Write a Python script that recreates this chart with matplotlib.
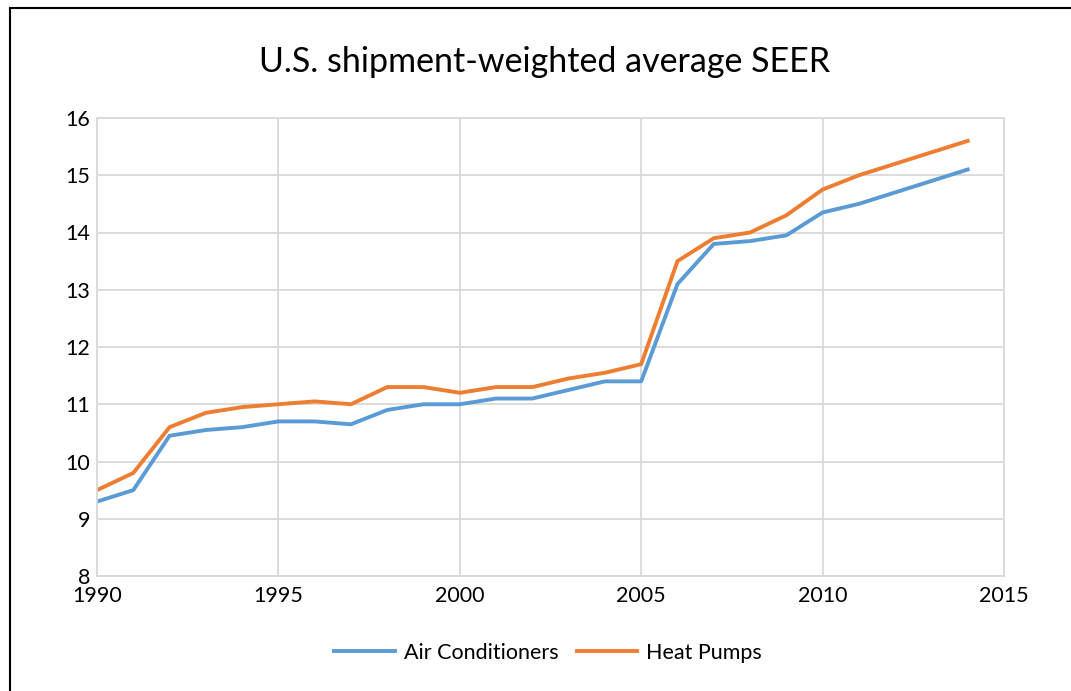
import matplotlib
matplotlib.use("Agg")
import matplotlib.pyplot as plt
from matplotlib.lines import Line2D

plt.rcParams['font.family'] = ['Lato', 'DejaVu Sans']

# values
years_ac = [1990, 1991, 1992, 1993, 1994, 1995, 1996, 1997, 1998, 1999, 2000,
            2001, 2002, 2003, 2004, 2005, 2006, 2007, 2008, 2009, 2010, 2011, 2014]
seer_ac = [9.3, 9.5, 10.45, 10.55, 10.6, 10.7, 10.7, 10.65, 10.9, 11.0, 11.0,
           11.1, 11.1, 11.25, 11.4, 11.4, 13.1, 13.8, 13.85, 13.95, 14.35, 14.5, 15.1]

years_hp = years_ac
seer_hp = [9.5, 9.8, 10.6, 10.85, 10.95, 11.0, 11.05, 11.0, 11.3, 11.3, 11.2,
           11.3, 11.3, 11.45, 11.55, 11.7, 13.5, 13.9, 14.0, 14.3, 14.75, 15.0, 15.6]

x_ticks = [1990, 1995, 2000, 2005, 2010, 2015]
y_ticks = [8, 9, 10, 11, 12, 13, 14, 15, 16]

blue = "#5b9bd5"
orange = "#ed7d31"
grid_col = "#d9d9d9"

fig = plt.figure(figsize=(10.71, 6.91), dpi=100)
ax = fig.add_axes([97/1071, 1-576/691, (1004-97)/1071, (576-118)/691])

ax.plot(years_ac, seer_ac, color=blue, lw=2.8, label="Air Conditioners", solid_joinstyle="round")
ax.plot(years_hp, seer_hp, color=orange, lw=2.8, label="Heat Pumps", solid_joinstyle="round")

ax.set_xlim(1990, 2015)
ax.set_ylim(8, 16)
ax.set_xticks(x_ticks)
ax.set_yticks(y_ticks)
ax.grid(True, color=grid_col, lw=1.3)
ax.set_axisbelow(True)
for s in ax.spines.values():
    s.set_color(grid_col)
    s.set_linewidth(1.3)
ax.tick_params(length=0, labelsize=15.5, colors="#000000")
ax.tick_params(axis='y', pad=5)
ax.tick_params(axis='x', pad=7.5)

fig.text(0.508, 1-62/691, "U.S. shipment-weighted average SEER", ha="center", va="center", fontsize=24.5)

ax.legend(loc="center", bbox_to_anchor=(548/1071, 1-653/691), bbox_transform=fig.transFigure,
          ncol=2, frameon=False, fontsize=15.5, handlelength=2.8, columnspacing=0.85,
          handletextpad=0.42)

# outer frame lines
fig.add_artist(Line2D([10/1071, 10/1071], [0, 1-8/691], transform=fig.transFigure, color="black", lw=1.5))
fig.add_artist(Line2D([10/1071, 1], [1-8/691, 1-8/691], transform=fig.transFigure, color="black", lw=1.5))

fig.savefig("out.png", dpi=100)
